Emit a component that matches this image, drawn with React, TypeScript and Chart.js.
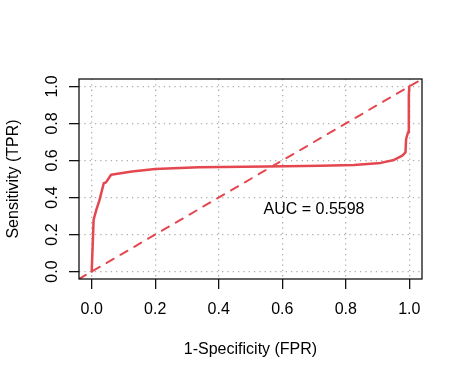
import React, { useEffect, useRef } from "react";
import { Chart, registerables } from "chart.js";

Chart.register(...registerables);

// ROC curve
const fprValues = [0, 0.006, 0.014, 0.024, 0.038, 0.045, 0.061, 0.127, 0.2, 0.337, 0.55, 0.721, 0.826, 0.91, 0.952, 0.978, 0.988, 0.99, 0.996, 0.998, 0.999, 1.0];
const tprValues = [0, 0.28, 0.33, 0.383, 0.477, 0.482, 0.523, 0.541, 0.554, 0.563, 0.568, 0.572, 0.576, 0.587, 0.603, 0.626, 0.644, 0.716, 0.752, 0.842, 0.95, 1.0];
const diagonalValues = [-0.04, 1.04];
const tickValues = [0, 0.2, 0.4, 0.6, 0.8, 1.0];
const tickLabels = ["0.0", "0.2", "0.4", "0.6", "0.8", "1.0"];
const xTitle = "1-Specificity (FPR)";
const yTitle = "Sensitivity (TPR)";
const aucLabel = "AUC = 0.5598";
const aucPosition = [0.7, 0.34];

const RED = "#E4474F";
const FONT = '16px "Liberation Sans", Arial, Helvetica, sans-serif';

export default function App() {
  const ref = useRef<HTMLCanvasElement | null>(null);

  useEffect(() => {
    if (!ref.current) return;
    const decor = {
      id: "rDecor",
      afterDraw(chart: any) {
        const { ctx, chartArea, scales } = chart;
        const xs = scales.x;
        const ys = scales.y;
        ctx.save();
        // box
        ctx.strokeStyle = "#111";
        ctx.lineWidth = 1.3;
        ctx.setLineDash([]);
        ctx.strokeRect(chartArea.left, chartArea.top, chartArea.right - chartArea.left, chartArea.bottom - chartArea.top);
        ctx.fillStyle = "#000";
        ctx.font = FONT;
        // x tick labels
        ctx.textAlign = "center";
        ctx.textBaseline = "alphabetic";
        tickValues.forEach((v, i) => {
          ctx.fillText(tickLabels[i], xs.getPixelForValue(v), chartArea.bottom + 35);
        });
        // y tick labels (rotated)
        tickValues.forEach((v, i) => {
          ctx.save();
          ctx.translate(chartArea.left - 22.5, ys.getPixelForValue(v));
          ctx.rotate(-Math.PI / 2);
          ctx.fillText(tickLabels[i], 0, 0);
          ctx.restore();
        });
        // axis titles
        ctx.fillText(xTitle, (chartArea.left + chartArea.right) / 2, chartArea.bottom + 75);
        ctx.save();
        ctx.translate(17.5, (chartArea.top + chartArea.bottom) / 2);
        ctx.rotate(-Math.PI / 2);
        ctx.fillText(yTitle, 0, 0);
        ctx.restore();
        // AUC annotation
        ctx.fillText(aucLabel, xs.getPixelForValue(aucPosition[0]), ys.getPixelForValue(aucPosition[1]) + 5.7);
        ctx.restore();
      },
    };

    const axisCommon = (isX: boolean) => ({
      type: "linear" as const,
      min: -0.04,
      max: 1.04,
      afterBuildTicks: (scale: any) => {
        scale.ticks = tickValues.map((v) => ({ value: v }));
      },
      afterFit: (scale: any) => {
        if (isX) scale.height = 98;
        else scale.width = 79;
      },
      ticks: { display: false },
      border: { display: false, dash: [1.3, 4] },
      grid: {
        color: "#AEAEAE",
        lineWidth: 1.3,
        drawTicks: true,
        tickLength: 10,
        tickColor: "#111",
        tickWidth: 1.3,
        tickBorderDash: [],
      },
    });

    const chart = new Chart(ref.current, {
      type: "scatter",
      data: {
        datasets: [
          {
            data: fprValues.map((x, i) => ({ x, y: tprValues[i] })),
            showLine: true,
            borderColor: RED,
            borderWidth: 2.5,
            pointRadius: 0,
            borderCapStyle: "round",
            borderJoinStyle: "round",
            tension: 0,
          },
          {
            data: diagonalValues.map((v) => ({ x: v, y: v })),
            showLine: true,
            borderColor: RED,
            borderWidth: 2,
            borderDash: [8, 8],
            borderCapStyle: "round",
            pointRadius: 0,
          },
        ],
      },
      options: {
        animation: false,
        responsive: true,
        maintainAspectRatio: false,
        layout: { padding: { left: 0, top: 79, right: 40, bottom: 0 } },
        plugins: { legend: { display: false }, tooltip: { enabled: false } },
        scales: {
          x: axisCommon(true) as any,
          y: axisCommon(false) as any,
        },
      },
      plugins: [decor],
    });
    return () => chart.destroy();
  }, []);

  return (
    <div style={{ position: "absolute", left: 0, top: 0, width: 462, height: 377, background: "#fff" }}>
      <canvas ref={ref} />
    </div>
  );
}
